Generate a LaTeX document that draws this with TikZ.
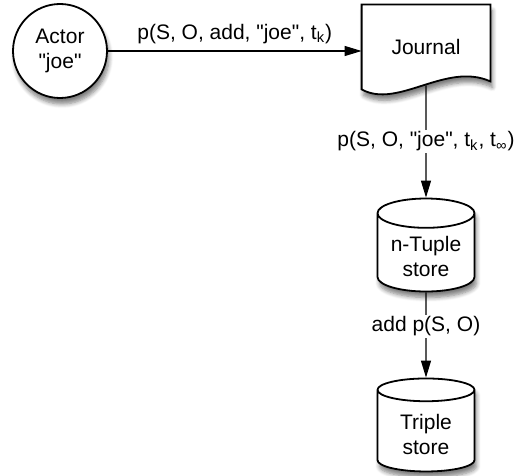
\documentclass[tikz,border=0pt]{standalone}
\usepackage{fontspec}
\setmainfont{Liberation Sans}[Ligatures=TeXOff]
\usetikzlibrary{shapes.geometric,arrows.meta,shadows.blur,backgrounds}

\begin{document}
\begin{tikzpicture}[x=0.5pt, y=-0.5pt, node distance=90pt, font=\fontsize{10.5}{12.5}\selectfont]
\tikzstyle{shade} = [blur shadow={shadow xshift=1pt, shadow yshift=-3pt, shadow opacity=50, shadow blur steps=6}]
\tikzstyle{actor} = [circle, draw, line width=0.9pt, fill=white, minimum size=47pt, align=center, shade]
\tikzstyle{doc} = [rectangle, minimum width=64pt, minimum height=42pt]
\tikzstyle{docline} = [draw, line width=0.9pt, fill=white, shade]
\tikzstyle{store} = [cylinder, shape border rotate=90, aspect=0.35, draw, line width=0.9pt, fill=white, minimum height=46.5pt, minimum width=48.5pt, align=center, shade]
\tikzstyle{arrow} = [line width=0.6pt, ->, >={Triangle[length=8.5pt, width=5pt]}]
\tikzstyle{lbl} = [midway, fill=white, inner sep=1pt]

\useasboundingbox (0,0) rectangle (515,476);

\node (actor) [actor] at (60,51) {Actor\\"joe"};
\node (journal) [doc, right of=actor, xshift=93pt, yshift=2pt] {Journal};
\node (tuple) [store, below of=journal, yshift=-14.75pt] {n-Tuple\\store};
\node (triple) [store, below of=tuple, yshift=1.25pt] {Triple\\store};

% journal outline behind its text
\begin{scope}[on background layer]
\draw [docline] (journal.north west) -- (journal.north east) -- ([yshift=4pt]journal.south east)
  .. controls ([xshift=10pt,yshift=14pt]journal.south) and ([xshift=-14pt,yshift=-10pt]journal.south) .. (journal.south west) -- cycle;
\end{scope}

\draw [arrow] (actor.east) -- (actor.east -| journal.west) node [midway, above] {p(S, O, add, "joe", t\textsubscript{k})};
\draw [arrow] ([yshift=2pt]journal.south) -- (tuple.north) node [lbl] {p(S, O, "joe", t\textsubscript{k}, t\textsubscript{∞})};
\draw [arrow] (tuple.south) -- (triple.north) node [lbl, pos=0.4] {add p(S, O)};
\end{tikzpicture}
\end{document}
